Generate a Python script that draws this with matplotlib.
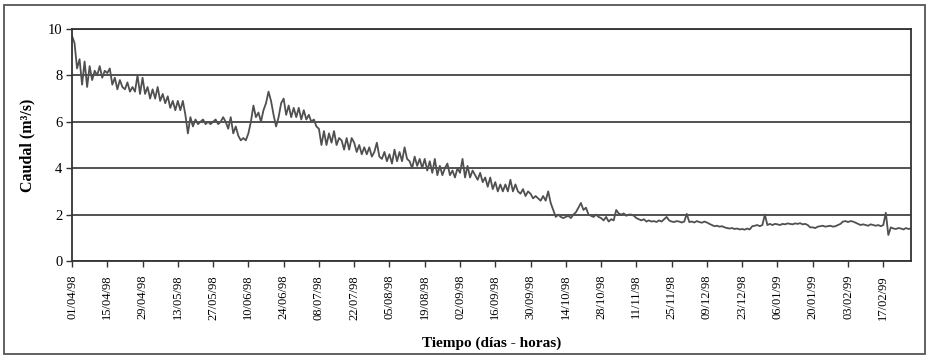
import matplotlib
matplotlib.use("Agg")
import matplotlib.pyplot as plt
from matplotlib.patches import Rectangle
import numpy as np
import pandas as pd

# caudal medio diario (m3/s) desde el 01/04/98, una fila por quincena
caudal = [
    9.7, 9.4, 8.3, 8.7, 7.6, 8.6, 7.5, 8.4, 7.8, 8.2, 8.0, 8.4, 7.9, 8.2,
    8.1, 8.3, 7.6, 7.9, 7.4, 7.8, 7.5, 7.4, 7.7, 7.3, 7.5, 7.3, 8.0, 7.2,
    7.9, 7.2, 7.5, 7.0, 7.4, 7.0, 7.5, 6.9, 7.2, 6.8, 7.1, 6.6, 6.9, 6.5,
    6.9, 6.5, 6.9, 6.3, 5.5, 6.2, 5.8, 6.1, 5.9, 6.0, 6.1, 5.9, 6.0, 5.9,
    6.0, 6.1, 5.9, 6.0, 6.2, 6.0, 5.7, 6.2, 5.5, 5.8, 5.4, 5.2, 5.3, 5.2,
    5.5, 6.0, 6.7, 6.2, 6.4, 6.0, 6.5, 6.8, 7.3, 6.9, 6.3, 5.8, 6.2, 6.8,
    7.0, 6.3, 6.7, 6.2, 6.6, 6.2, 6.6, 6.1, 6.5, 6.1, 6.3, 6.0, 6.1, 5.8,
    5.7, 5.0, 5.6, 5.0, 5.5, 5.1, 5.6, 5.0, 5.3, 5.2, 4.8, 5.3, 4.8, 5.3,
    5.1, 4.7, 5.0, 4.6, 4.9, 4.6, 4.9, 4.5, 4.7, 5.1, 4.5, 4.4, 4.7, 4.3,
    4.6, 4.2, 4.8, 4.3, 4.7, 4.3, 4.9, 4.4, 4.3, 4.0, 4.5, 4.1, 4.4, 4.0,
    4.4, 3.9, 4.3, 3.8, 4.4, 3.7, 4.1, 3.7, 4.0, 4.2, 3.7, 3.9, 3.6, 4.0,
    3.8, 4.4, 3.6, 4.1, 3.6, 3.9, 3.7, 3.5, 3.8, 3.4, 3.6, 3.2, 3.6, 3.1,
    3.4, 3.0, 3.3, 3.0, 3.3, 3.0, 3.5, 3.0, 3.3, 3.0, 2.9, 3.1, 2.8, 3.0,
    2.9, 2.7, 2.8, 2.7, 2.6, 2.8, 2.6, 3.0, 2.5, 2.2, 1.9, 2.0, 1.9, 1.85,
    1.9, 1.95, 1.85, 2.0, 2.1, 2.3, 2.5, 2.2, 2.3, 2.0, 1.95, 1.9, 2.0, 1.9,
    1.85, 1.75, 1.9, 1.7, 1.8, 1.75, 2.2, 2.05, 2.0, 2.05, 1.95, 2.0, 2.0, 1.95,
    1.85, 1.8, 1.75, 1.8, 1.7, 1.75, 1.7, 1.72, 1.68, 1.75, 1.7, 1.8, 1.9, 1.75,
    1.7, 1.68, 1.72, 1.7, 1.66, 1.7, 2.03, 1.68, 1.7, 1.66, 1.72, 1.68, 1.65, 1.7,
    1.66, 1.6, 1.55, 1.5, 1.52, 1.48, 1.5, 1.45, 1.42, 1.4, 1.42, 1.38, 1.4, 1.36,
    1.38, 1.35, 1.4, 1.36, 1.5, 1.52, 1.55, 1.5, 1.55, 2.0, 1.55, 1.6, 1.55, 1.6,
    1.58, 1.55, 1.6, 1.58, 1.62, 1.6, 1.58, 1.62, 1.6, 1.63, 1.58, 1.6, 1.55, 1.45,
    1.45, 1.42, 1.48, 1.5, 1.52, 1.48, 1.5, 1.52, 1.48, 1.5, 1.55, 1.6, 1.7, 1.72,
    1.68, 1.72, 1.7, 1.65, 1.6, 1.55, 1.58, 1.55, 1.52, 1.58, 1.55, 1.52, 1.55, 1.5,
    1.55, 2.08, 1.12, 1.45, 1.4, 1.38, 1.42, 1.4, 1.36, 1.42, 1.38, 1.4,
]
fecha_inicio = "1998-04-01"
fechas = pd.date_range(fecha_inicio, periods=len(caudal), freq="D")

tick_fechas = pd.date_range(fecha_inicio, "1999-02-17", freq="14D")
tick_labels = [f.strftime("%d/%m/%y") for f in tick_fechas]
y_ticks = [0, 2, 4, 6, 8, 10]

plt.rcParams['font.family'] = ['Liberation Serif', 'DejaVu Serif']

fig = plt.figure(figsize=(9.27, 3.56), dpi=100)
# marco exterior del grafico
fig.patches.append(Rectangle((4 / 927, 2 / 356), 921 / 927, 349 / 356,
                             transform=fig.transFigure, fill=False,
                             edgecolor="#555555", linewidth=1.3))

ax = fig.add_axes([72 / 927, 1 - 261 / 356, 839 / 927, 232 / 356])
ax.plot(fechas, caudal, color="#505050", linewidth=1.3)

ax.set_xlim(fechas[0], fechas[-1])
ax.set_ylim(0, 10)
ax.set_yticks(y_ticks)
ax.set_xticks(tick_fechas)
ax.set_xticklabels(tick_labels, rotation=90, fontsize=9)
ax.tick_params(axis="y", labelsize=10.5, length=4, width=1, color="#333333", pad=3)
ax.tick_params(axis="x", length=4, width=1, color="#333333", pad=6)

ax.yaxis.grid(True, color="#333333", linewidth=1.2)
ax.set_axisbelow(True)
for s in ["left", "bottom", "right", "top"]:
    ax.spines[s].set_color("#333333")
    ax.spines[s].set_linewidth(1.3)

ax.set_ylabel("Caudal (m³/s)", fontsize=11.5, fontweight="bold", labelpad=9)
ax.set_xlabel("Tiempo (días - horas)", fontsize=11, fontweight="bold", labelpad=12)

fig.savefig("out.png", dpi=100)
